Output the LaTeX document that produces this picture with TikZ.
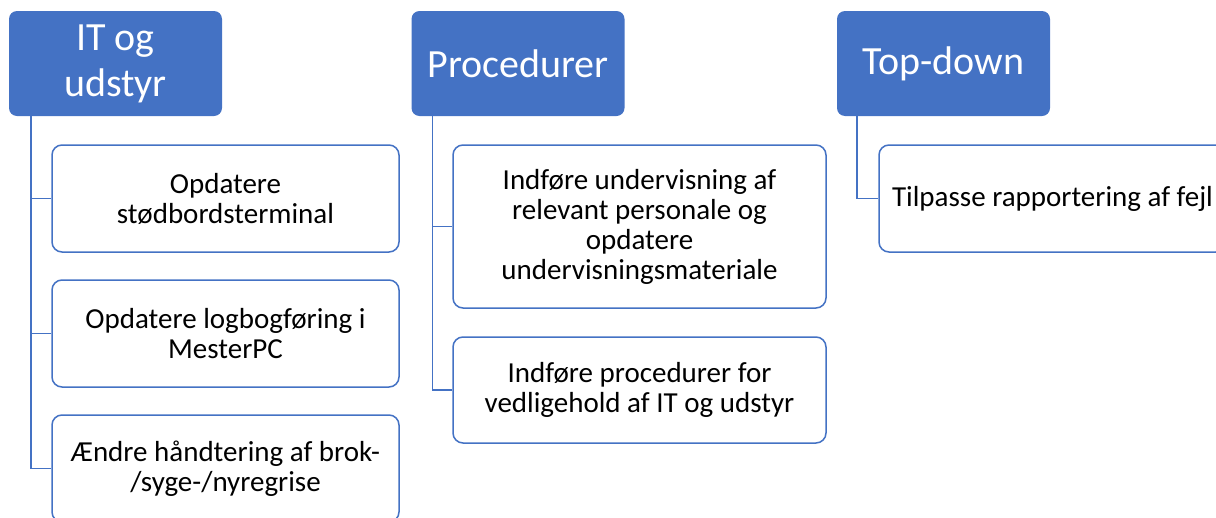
\documentclass[tikz,border=0pt]{standalone}
\usepackage{fontspec}
\setmainfont{Carlito}
\usepackage{tikz}
\usetikzlibrary{positioning}

\definecolor{accent}{HTML}{4472C4}

\begin{document}
\begin{tikzpicture}[x=1pt, y=-1pt,
    head/.style={rectangle, rounded corners=8pt, fill=accent, text=white,
        minimum width=213pt, minimum height=105pt, align=center,
        font=\fontsize{40}{46}\selectfont},
    item/.style={rectangle, rounded corners=10pt, draw=accent, fill=white,
        line width=1.5pt, minimum width=347pt, minimum height=107pt,
        align=center, font=\fontsize{29}{30}\selectfont},
    link/.style={draw=accent, line width=1.5pt}]
    \useasboundingbox (0,0) rectangle (1216,517);
    \clip (0,0) rectangle (1216,517);

    % Nodes {h1, h2, h3}
    \node [head]    (h1) at (115.5,63.5)  {IT og\\udstyr};
    \node [head]    (h2) at (518,63.5)    {Procedurer};
    \node [head]    (h3) at (943.5,63.5)  {Top-down};

    % Nodes under each header
    \node [item]    (c11) at (225.5,198.5)  {Opdatere\\stødbordsterminal};
    \node [item]    (c12) at (225.5,333.5)  {Opdatere logbogføring i\\MesterPC};
    \node [item]    (c13) at (225.5,468.5)  {Ændre håndtering af brok-\\/syge-/nyregrise};
    \node [item, minimum width=373pt, minimum height=163pt]
                    (c21) at (639.5,226.5)  {Indføre undervisning af\\relevant personale og\\opdatere\\undervisningsmateriale};
    \node [item, minimum width=373pt, minimum height=106pt]
                    (c22) at (639.5,390)    {Indføre procedurer for\\vedligehold af IT og udstyr};
    \node [item]    (c31) at (1052.5,198.5) {Tilpasse rapportering af fejl};

    % Paths
    \path [link] ([xshift=22pt]h1.south west) |- (c11.west);
    \path [link] ([xshift=22pt]h1.south west) |- (c12.west);
    \path [link] ([xshift=22pt]h1.south west) |- (c13.west);
    \path [link] ([xshift=21pt]h2.south west) |- (c21.west);
    \path [link] ([xshift=21pt]h2.south west) |- (c22.west);
    \path [link] ([xshift=20pt]h3.south west) |- (c31.west);

\end{tikzpicture}
\end{document}
